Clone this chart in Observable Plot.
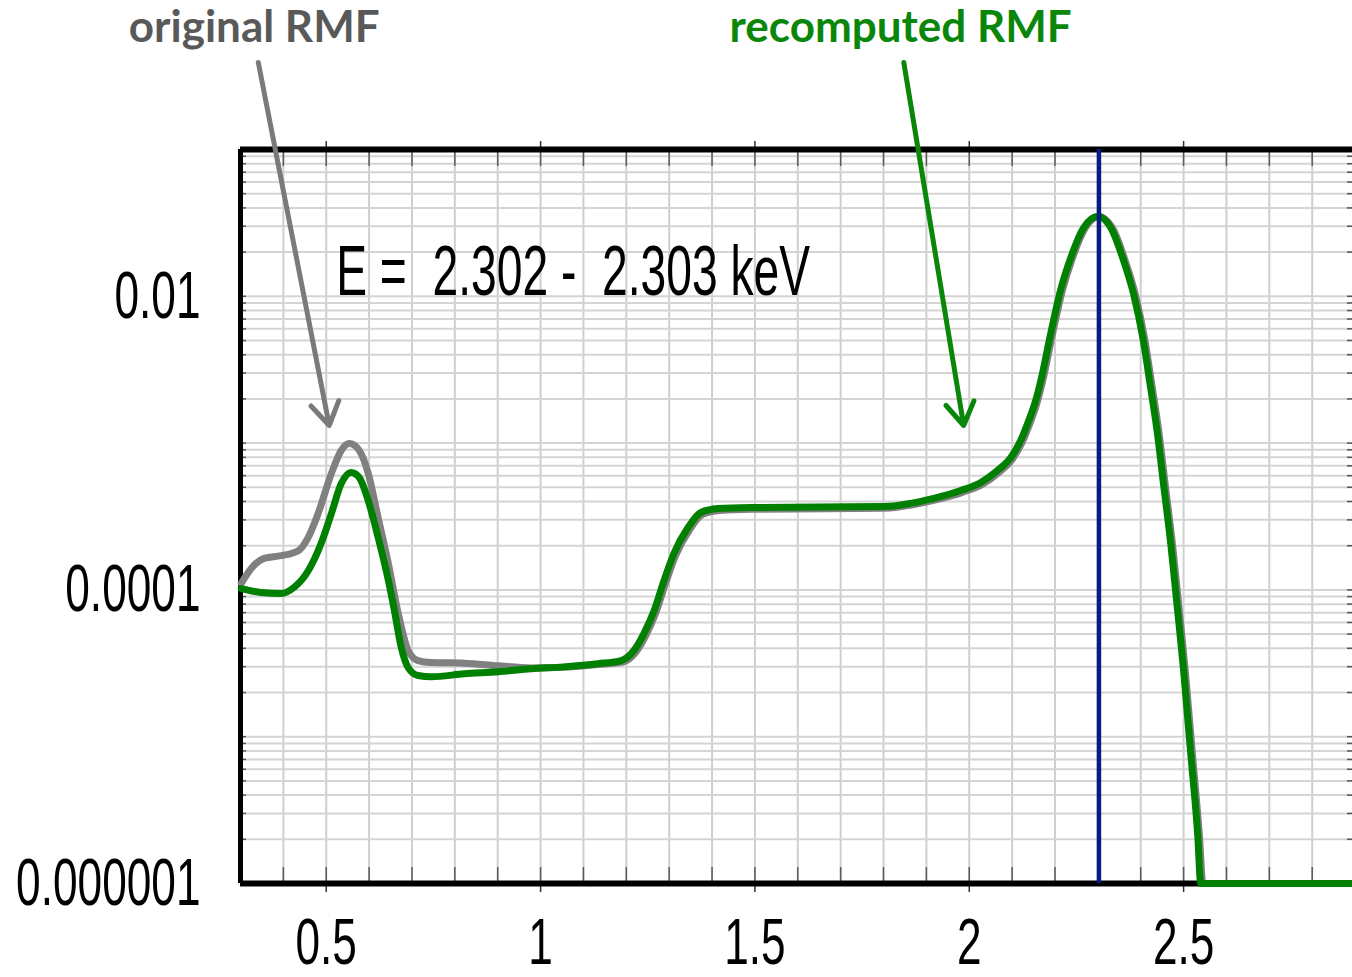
<!DOCTYPE html>
<html>
<head>
<meta charset="utf-8">
<script src="https://cdn.jsdelivr.net/npm/d3@7"></script>
<script src="https://cdn.jsdelivr.net/npm/@observablehq/plot@0.6"></script>
<style>
  html, body { margin: 0; padding: 0; background: #fff; }
  #chart svg { display: block; }
  #chart svg text { white-space: pre; }
</style>
</head>
<body>
<div id="chart"></div>
<script>
// Response for the 2.302 - 2.303 keV channel, as a function of energy (keV)
const energyOriginal = [
  0.302, 0.325, 0.355, 0.395, 0.435, 0.458, 0.481, 0.512, 0.535, 0.554,
  0.577, 0.598, 0.621, 0.645, 0.668, 0.691, 0.714, 0.745, 0.822, 0.901,
  0.978, 1.055, 1.134, 1.192, 1.222, 1.245, 1.269, 1.292, 1.315, 1.348,
  1.378, 1.418, 1.495, 1.801, 1.917, 1.984, 2.031, 2.070, 2.101, 2.124,
  2.143, 2.159, 2.171, 2.194, 2.217, 2.241, 2.271, 2.302, 2.334, 2.364,
  2.387, 2.410, 2.427, 2.443, 2.457, 2.474, 2.490, 2.504, 2.520, 2.537,
  2.545, 2.894
];
const responseOriginal = [
  1.11e-4, 1.40e-4, 1.64e-4, 1.71e-4, 1.85e-4, 2.28e-4, 3.31e-4, 6.21e-4, 8.91e-4, 9.93e-4,
  8.91e-4, 6.21e-4, 3.11e-4, 1.51e-4, 6.90e-5, 3.87e-5, 3.30e-5, 3.20e-5, 3.17e-5, 3.04e-5,
  2.94e-5, 2.97e-5, 3.10e-5, 3.22e-5, 3.75e-5, 4.85e-5, 7.00e-5, 1.12e-4, 1.72e-4, 2.58e-4,
  3.27e-4, 3.48e-4, 3.54e-4, 3.60e-4, 4.08e-4, 4.62e-4, 5.25e-4, 6.35e-4, 7.80e-4, 1.02e-3,
  1.40e-3, 1.92e-3, 2.63e-3, 5.50e-3, 1.09e-2, 1.83e-2, 2.93e-2, 3.50e-2, 2.93e-2, 1.74e-2,
  1.04e-2, 4.98e-3, 2.38e-3, 1.15e-3, 5.25e-4, 2.05e-4, 7.20e-5, 2.80e-5, 8.00e-6, 2.10e-6,
  1.00e-6, 1.00e-6
];

const energyRecomputed = [
  0.302, 0.348, 0.395, 0.425, 0.458, 0.488, 0.512, 0.535, 0.558, 0.577,
  0.598, 0.621, 0.645, 0.659, 0.675, 0.691, 0.714, 0.745, 0.822, 0.901,
  0.978, 1.055, 1.134, 1.188, 1.218, 1.241, 1.265, 1.288, 1.311, 1.344,
  1.374, 1.414, 1.491, 1.801, 1.917, 1.980, 2.027, 2.066, 2.097, 2.120,
  2.139, 2.155, 2.167, 2.190, 2.213, 2.237, 2.267, 2.300, 2.330, 2.360,
  2.383, 2.406, 2.423, 2.439, 2.453, 2.470, 2.486, 2.500, 2.516, 2.533,
  2.540, 2.894
];
const responseRecomputed = [
  1.02e-4, 9.60e-5, 9.45e-5, 1.04e-4, 1.35e-4, 2.07e-4, 3.31e-4, 5.30e-4, 6.31e-4, 5.83e-4,
  4.06e-4, 2.28e-4, 1.16e-4, 7.24e-5, 4.06e-5, 2.96e-5, 2.61e-5, 2.56e-5, 2.68e-5, 2.77e-5,
  2.90e-5, 2.99e-5, 3.14e-5, 3.30e-5, 3.87e-5, 5.04e-5, 7.24e-5, 1.16e-4, 1.77e-4, 2.66e-4,
  3.37e-4, 3.58e-4, 3.64e-4, 3.70e-4, 4.20e-4, 4.75e-4, 5.39e-4, 6.51e-4, 7.97e-4, 1.04e-3,
  1.43e-3, 1.95e-3, 2.67e-3, 5.58e-3, 1.10e-2, 1.84e-2, 2.94e-2, 3.50e-2, 2.94e-2, 1.75e-2,
  1.045e-2, 5.00e-3, 2.39e-3, 1.16e-3, 5.30e-4, 2.07e-4, 7.24e-5, 2.83e-5, 8.05e-6, 2.12e-6,
  1.00e-6, 1.00e-6
];

// Channel energy marker
const channelEnergy = [2.3025];
const channelLabel = "E =  2.302 -  2.303 keV";

// Axes
const xDomain = [0.3, 2.894];
const yDomain = [1e-6, 1e-1];
const xTickValues = [0.5, 1, 1.5, 2, 2.5];
const xTickLabels = ["0.5", "1", "1.5", "2", "2.5"];
const yTickValues = [1e-2, 1e-4, 1e-6];
const yTickLabels = ["0.01", "0.0001", "0.000001"];
const xMinorTicks = d3.range(3, 29).map((i) => i / 10);

// Callouts
const callouts = [
  {name: "original RMF", color: "#595959", arrow: "#7a7a7a", tx: 0.332, ty: 0.678, x1: 0.3415, y1: 0.3915, x2: 0.507, y2: 1.318e-3},
  {name: "recomputed RMF", color: "#0a870a", arrow: "#0a870a", tx: 1.840, ty: 0.678, x1: 1.8473, y1: 0.3915, x2: 1.987, y2: 1.318e-3}
];

const original = energyOriginal.map((e, i) => ({energy: e, response: responseOriginal[i]}));
const recomputed = energyRecomputed.map((e, i) => ({energy: e, response: responseRecomputed[i]}));

const labelFont = "'Liberation Sans', Arial, Helvetica, sans-serif";

const chart = Plot.plot({
  width: 1352,
  height: 977,
  marginLeft: 240,
  marginRight: 0,
  marginTop: 149,
  marginBottom: 94,
  x: {domain: xDomain},
  y: {type: "log", domain: yDomain},
  style: {fontFamily: labelFont, background: "#fff", color: "#000"},
  marks: [
    // grid
    Plot.gridX({ticks: xMinorTicks, stroke: "#cfcfcf", strokeOpacity: 1, strokeWidth: 2}),
    Plot.gridY({ticks: 60, stroke: "#d4d4d4", strokeOpacity: 1, strokeWidth: 2}),
    // inner minor ticks on all sides
    Plot.axisX({anchor: "top", ticks: xMinorTicks, tickSize: -16, fill: "none", label: null, stroke: "#5a5a5a", strokeWidth: 1.5}),
    Plot.axisX({anchor: "bottom", ticks: xMinorTicks, tickSize: -16, fill: "none", label: null, stroke: "#5a5a5a", strokeWidth: 1.5}),
    Plot.axisY({anchor: "left", ticks: 60, tickSize: -6, fill: "none", label: null, stroke: "#555", strokeWidth: 1.5}),
    Plot.axisY({anchor: "right", ticks: 60, tickSize: -6, fill: "none", label: null, stroke: "#555", strokeWidth: 1.5}),
    // outer major ticks
    Plot.axisX({anchor: "top", ticks: xTickValues, tickSize: 9, fill: "none", label: null, stroke: "#333", strokeWidth: 1.5}),
    Plot.axisX({anchor: "bottom", ticks: xTickValues, tickSize: 9, fill: "none", label: null, stroke: "#333", strokeWidth: 1.5}),
    // tick labels
    Plot.axisX({
      anchor: "bottom", ticks: xTickValues, tickSize: 0, tickPadding: 35, label: null,
      fontSize: 64, tickFormat: (d) => xTickLabels[xTickValues.indexOf(d)]
    }),
    Plot.axisY({
      anchor: "left", ticks: yTickValues, tickSize: 0, tickPadding: 40, label: null,
      fontSize: 67, tickFormat: (d) => yTickLabels[yTickValues.indexOf(d)]
    }),
    // frame (top, left, bottom)
    Plot.ruleY([yDomain[1]], {stroke: "#000", strokeWidth: 6}),
    Plot.ruleY([yDomain[0]], {stroke: "#000", strokeWidth: 6}),
    Plot.ruleX([xDomain[0]], {stroke: "#000", strokeWidth: 5}),
    // response curves
    Plot.line(original, {x: "energy", y: "response", stroke: "#808080", strokeWidth: 7, curve: "monotone-x", strokeLinejoin: "round", strokeLinecap: "round"}),
    Plot.line(recomputed, {x: "energy", y: "response", stroke: "#008000", strokeWidth: 7, curve: "monotone-x", strokeLinejoin: "round", strokeLinecap: "round"}),
    // channel energy
    Plot.ruleX(channelEnergy, {stroke: "#0a1a85", strokeWidth: 4.5}),
    Plot.text([channelLabel], {x: 0.5233, y: 0.0145, text: (d) => d, textAnchor: "start", lineAnchor: "middle", fontSize: 70, fill: "#000"}),
    // callouts
    Plot.text(callouts, {x: "tx", y: "ty", text: "name", fill: "color", fontSize: 44, fontWeight: "bold", fontFamily: "Lato, 'Open Sans', sans-serif", textAnchor: "middle", lineAnchor: "middle"}),
    Plot.arrow(callouts, {x1: "x1", y1: "y1", x2: "x2", y2: "y2", stroke: "arrow", strokeWidth: 5, headLength: 8, headAngle: 64})
  ]
});

// condensed digits for tick labels and the channel label
chart.querySelectorAll('g[aria-label="x-axis tick label"] text, g[aria-label="y-axis tick label"] text, g[aria-label="text"] text').forEach((t) => {
  if (t.textContent.startsWith("E =") || t.closest('g[aria-label$="tick label"]')) {
    t.setAttribute("transform", (t.getAttribute("transform") || "") + " scale(0.66,1)");
  }
});
chart.querySelectorAll('g[aria-label="x-axis tick label"] text').forEach((t) => {
  t.setAttribute("transform", t.getAttribute("transform").replace("scale(0.66,1)", "scale(0.69,1)"));
});

document.getElementById("chart").appendChild(chart);
</script>
</body>
</html>
